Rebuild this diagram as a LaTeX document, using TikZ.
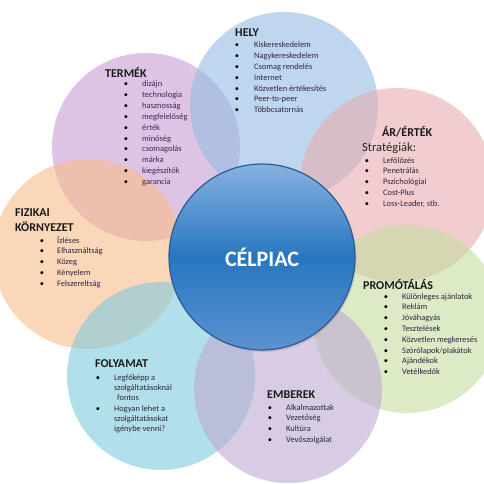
\documentclass[tikz,border=0pt]{standalone}
\usepackage{fontspec}
\setmainfont{Carlito}
\usetikzlibrary{shadows}
\definecolor{helyc}{RGB}{147,188,227}
\definecolor{termc}{RGB}{200,157,210}
\definecolor{arc}{RGB}{232,172,176}
\definecolor{fizc}{RGB}{248,188,140}
\definecolor{folyc}{RGB}{127,203,220}
\definecolor{embc}{RGB}{190,170,210}
\definecolor{promc}{RGB}{198,220,160}
\definecolor{itemc}{RGB}{46,36,64}
\definecolor{termitemc}{RGB}{62,34,88}
\definecolor{ctop}{RGB}{135,178,224}
\definecolor{cmid}{RGB}{40,118,192}
\definecolor{cbot}{RGB}{92,146,208}
\definecolor{cborder}{RGB}{45,90,150}
\begin{document}
\begin{tikzpicture}[x=1pt,y=-1pt,
  petal/.style={circle, inner sep=0pt, minimum size=188pt, fill opacity=0.6},
  ttl/.style={anchor=west, inner sep=0pt, font=\bfseries\fontsize{12}{13}\selectfont, text=black!90},
  itm/.style={anchor=west, inner sep=0pt, text height=6pt, text depth=2pt, font=\fontsize{8.4}{9}\selectfont, text=itemc},
  bul/.style={anchor=center, inner sep=0pt, text height=6pt, text depth=2pt, font=\fontsize{8.4}{9}\selectfont, text=black}]
\useasboundingbox (0,0) rectangle (484,484);
\begin{scope}
\clip (0,0) rectangle (484,484);
\node[petal, fill=termc] (termek) at (146,147) {};
\node[petal, fill=helyc] (hely) at (284,106) {};
\node[petal, fill=arc, minimum size=194pt] (ar) at (397,185) {};
\node[petal, fill=fizc, minimum size=190pt] (fiz) at (88,254) {};
\node[petal, fill=promc] (prom) at (407,319) {};
\node[petal, fill=folyc] (foly) at (161,376) {};
\node[petal, fill=embc] (emb) at (288,389) {};
\end{scope}
\node[circle, inner sep=0pt, minimum size=186pt, draw=cborder, line width=1.2pt,
  top color=ctop, bottom color=cbot, middle color=cmid,
  drop shadow={opacity=0.25, shadow xshift=1.5pt, shadow yshift=-2pt},
  text=white, font=\bfseries\fontsize{22}{24}\selectfont] (celpiac) at (262,257) {CÉLPIAC};
% TERMÉK
\node[ttl] (termek-t) at (105,72) {TERMÉK};
\foreach \t [count=\i] in {dizájn,technologia,hasznosság,megfelelőség,érték,minőség,csomagolás,márka,kiegészítők,garancia}{
  \node[bul] (termek-b\i) at (126,{85+(\i-1)*10.8}) {\textbullet};
  \node[itm, text=termitemc] (termek-i\i) at (142,{85+(\i-1)*10.8}) {\t};
}
% HELY
\node[ttl] (hely-t) at (235,33) {HELY};
\foreach \t [count=\i] in {Kiskereskedelem,Nagykereskedelem,Csomag rendelés,Internet,Közvetlen értékesítés,Peer-to-peer,Többcsatornás}{
  \node[bul] (hely-b\i) at (237,{46+(\i-1)*10.8}) {\textbullet};
  \node[itm] (hely-i\i) at (254,{46+(\i-1)*10.8}) {\t};
}
% ÁR/ÉRTÉK
\node[ttl] (ar-t) at (382,132) {ÁR/ÉRTÉK};
\node[anchor=west, inner sep=0pt, font=\fontsize{12.5}{13}\selectfont, text=black!85] (ar-s) at (362,148) {Stratégiák:};
\foreach \t [count=\i] in {Lefölözés,Penetrálás,Pszichológiai,Cost-Plus,{Loss-Leader, stb.}}{
  \node[bul] (ar-b\i) at (367,{161+(\i-1)*10.8}) {\textbullet};
  \node[itm] (ar-i\i) at (383,{161+(\i-1)*10.8}) {\t};
}
% FIZIKAI KÖRNYEZET
\node[ttl] (fiz-t1) at (15,213) {FIZIKAI};
\node[ttl] (fiz-t2) at (15,227) {KÖRNYEZET};
\foreach \t [count=\i] in {Ízléses,Elhasználtság,Közeg,Kényelem,Felszereltság}{
  \node[bul] (fiz-b\i) at (42,{241+(\i-1)*10.9}) {\textbullet};
  \node[itm] (fiz-i\i) at (57,{241+(\i-1)*10.9}) {\t};
}
% PROMÓTÁLÁS
\node[ttl] (prom-t) at (363,284) {PROMÓTÁLÁS};
\foreach \t [count=\i] in {Különleges ajánlatok,Reklám,Jóváhagyás,Tesztelések,Közvetlen megkeresés,Szórólapok/plakátok,Ajándékok,Vetélkedők}{
  \node[bul] (prom-b\i) at (386,{297+(\i-1)*10.8}) {\textbullet};
  \node[itm] (prom-i\i) at (402,{297+(\i-1)*10.8}) {\t};
}
% FOLYAMAT
\node[ttl] (foly-t) at (95,364) {FOLYAMAT};
\node[bul] (foly-b1) at (98,378) {\textbullet};
\node[itm] (foly-i1) at (114,378) {Legfőképp a};
\node[itm] (foly-i2) at (114,388.3) {szolgáltatásoknál};
\node[itm] (foly-i3) at (117,398.6) {fontos};
\node[bul] (foly-b2) at (98,409) {\textbullet};
\node[itm] (foly-i4) at (114,409) {Hogyan lehet a};
\node[itm] (foly-i5) at (114,419.3) {szolgáltatásokat};
\node[itm] (foly-i6) at (114,429.6) {igénybe venni?};
% EMBEREK
\node[ttl] (emb-t) at (267,395) {EMBEREK};
\foreach \t [count=\i] in {Alkalmazottak,Vezetőség,Kultúra,Vevőszolgálat}{
  \node[bul] (emb-b\i) at (270,{408+(\i-1)*10.7}) {\textbullet};
  \node[itm] (emb-i\i) at (286,{408+(\i-1)*10.7}) {\t};
}
\end{tikzpicture}
\end{document}
